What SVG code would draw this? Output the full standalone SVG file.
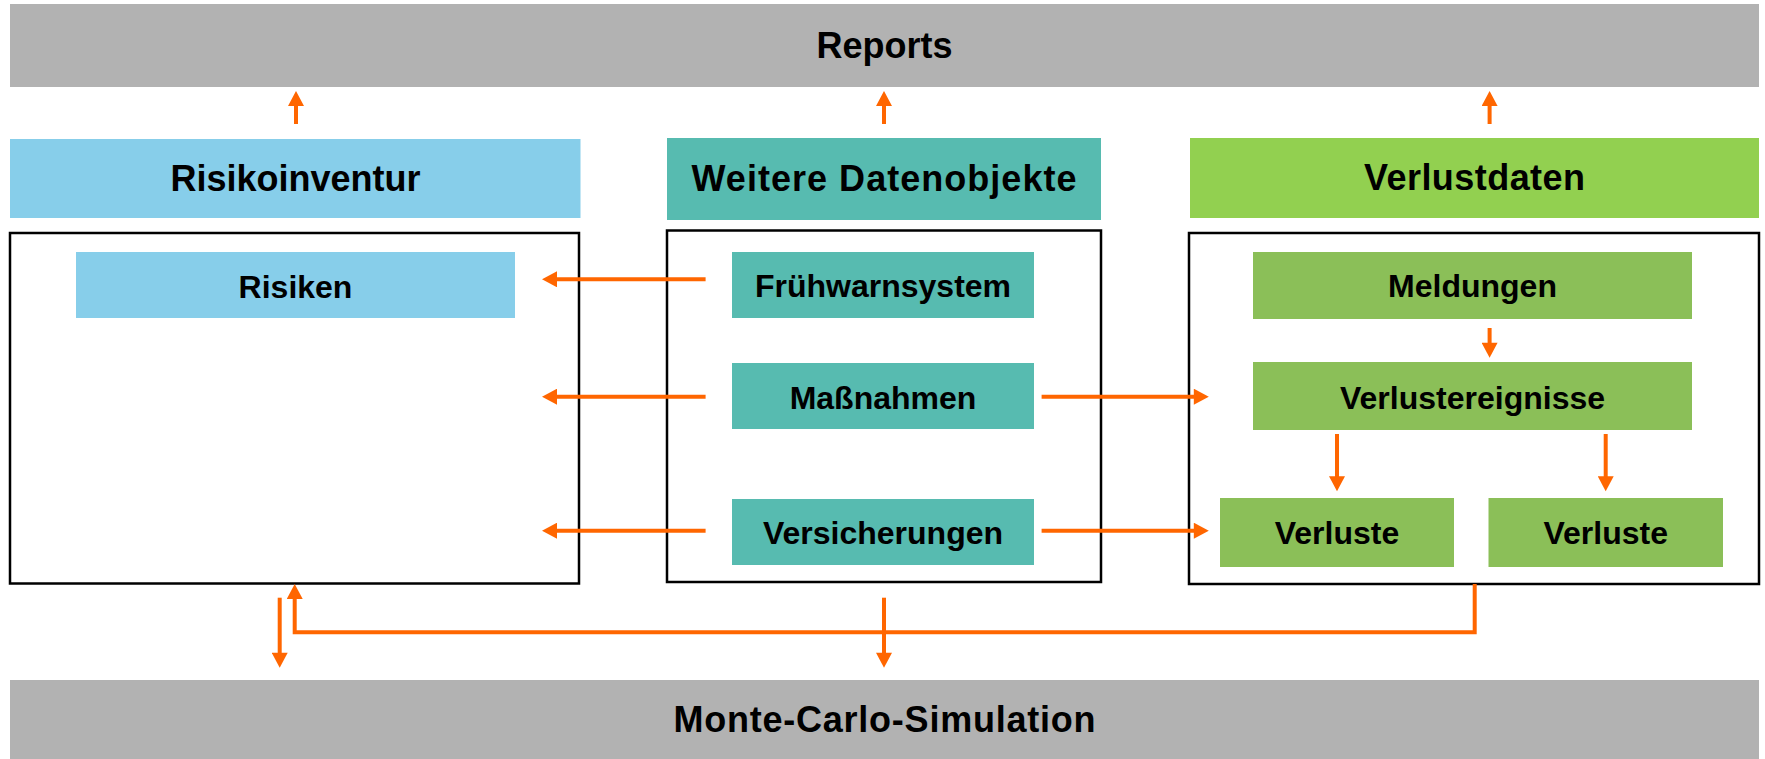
<svg xmlns="http://www.w3.org/2000/svg" width="1765" height="759" viewBox="0 0 1765 759">
<style>
text{font-family:"Liberation Sans",Arial,sans-serif;font-weight:bold;fill:#000;text-anchor:middle}
.big{font-size:36px}
.sm{font-size:32px}
.bar{fill:#B2B2B2}
.blue{fill:#87CEEA}
.teal{fill:#57BBB0}
.lg{fill:#92D050}
.g{fill:#8BBF58}
.frame{fill:none;stroke:#000;stroke-width:2.5}
.c{fill:none;stroke:#FF6600;stroke-width:4}
</style>
<defs>
<marker id="ah" markerUnits="userSpaceOnUse" markerWidth="16" markerHeight="16" viewBox="0 0 15 16" refX="3" refY="8" orient="auto">
<path d="M0,0 L15,8 L0,16 z" fill="#FF6600"/>
</marker>
</defs>
<g id="reports"><rect class="bar" x="10" y="4" width="1749" height="83"/><text class="big" x="884.5" y="58">Reports</text></g>
<g id="montecarlo"><rect class="bar" x="10" y="680" width="1749" height="79"/><text class="big" x="884.5" y="732" textLength="422" lengthAdjust="spacing">Monte-Carlo-Simulation</text></g>
<g id="risikoinventur"><rect class="blue" x="10" y="139" width="570.5" height="79"/><text class="big" x="295.5" y="191">Risikoinventur</text></g>
<g id="weitere"><rect class="teal" x="667" y="138" width="434" height="82"/><text class="big" x="884" y="191" textLength="385" lengthAdjust="spacing">Weitere Datenobjekte</text></g>
<g id="verlustdaten"><rect class="lg" x="1190" y="138" width="569" height="80"/><text class="big" x="1474.5" y="190" textLength="221" lengthAdjust="spacing">Verlustdaten</text></g>
<g id="frame-left"><rect class="frame" x="10" y="233" width="569" height="350.5"/></g>
<g id="frame-mid"><rect class="frame" x="667" y="230.5" width="434" height="351.5"/></g>
<g id="frame-right"><rect class="frame" x="1189" y="233" width="570" height="351"/></g>
<g id="risiken"><rect class="blue" x="76" y="252" width="439" height="66"/><text class="sm" x="295.5" y="297.5">Risiken</text></g>
<g id="fruehwarnsystem"><rect class="teal" x="732" y="252" width="302" height="66"/><text class="sm" x="883" y="296.7">Frühwarnsystem</text></g>
<g id="massnahmen"><rect class="teal" x="732" y="363" width="302" height="66"/><text class="sm" x="883" y="408.7">Maßnahmen</text></g>
<g id="versicherungen"><rect class="teal" x="732" y="499" width="302" height="66"/><text class="sm" x="883" y="544">Versicherungen</text></g>
<g id="meldungen"><rect class="g" x="1253" y="252" width="439" height="67"/><text class="sm" x="1472.5" y="296.7">Meldungen</text></g>
<g id="verlustereignisse"><rect class="g" x="1253" y="362" width="439" height="68"/><text class="sm" x="1472.5" y="408.7">Verlustereignisse</text></g>
<g id="verluste1"><rect class="g" x="1220" y="498" width="234" height="69"/><text class="sm" x="1337" y="544">Verluste</text></g>
<g id="verluste2"><rect class="g" x="1488.5" y="498" width="234.5" height="69"/><text class="sm" x="1605.7" y="544">Verluste</text></g>
<g id="connectors">
<path class="c" d="M296,124 V103" marker-end="url(#ah)"/>
<path class="c" d="M884,124 V103" marker-end="url(#ah)"/>
<path class="c" d="M1489.6,124 V103" marker-end="url(#ah)"/>
<path class="c" d="M705.6,279.3 H554" marker-end="url(#ah)"/>
<path class="c" d="M705.6,396.7 H554" marker-end="url(#ah)"/>
<path class="c" d="M705.6,530.7 H554" marker-end="url(#ah)"/>
<path class="c" d="M1041.6,396.7 H1196.8" marker-end="url(#ah)"/>
<path class="c" d="M1041.6,530.7 H1196.8" marker-end="url(#ah)"/>
<path class="c" d="M1489.6,328 V345.7" marker-end="url(#ah)"/>
<path class="c" d="M1337,434 V479.3" marker-end="url(#ah)"/>
<path class="c" d="M1605.7,434 V479.3" marker-end="url(#ah)"/>
<path class="c" d="M279.7,597.7 V655.7" marker-end="url(#ah)"/>
<path class="c" d="M884,597.7 V655.7" marker-end="url(#ah)"/>
<path class="c" d="M1474.7,584 V632.3 H294.7 V596" marker-end="url(#ah)"/>
</g>
</svg>
